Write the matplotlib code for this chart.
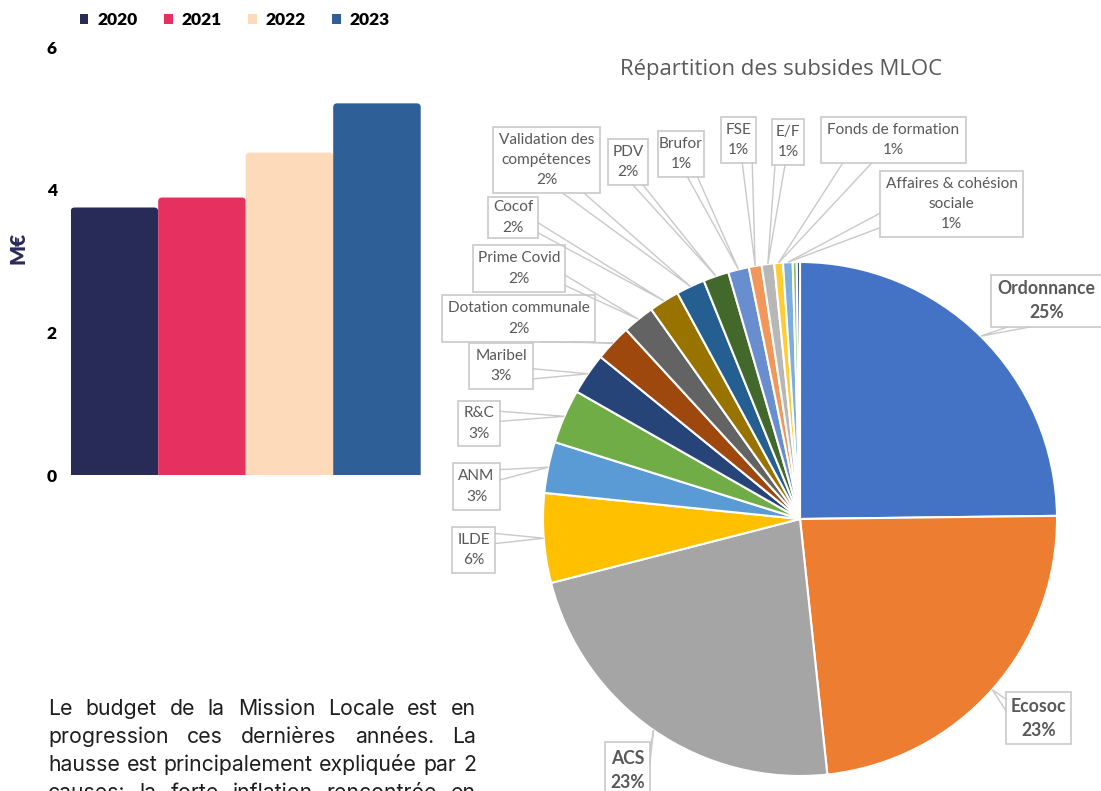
import numpy as np
import matplotlib
matplotlib.use("Agg")
import matplotlib.pyplot as plt
from matplotlib.patches import FancyBboxPatch, Rectangle

W, H = 1101, 791

# --- bar chart data (M€)
years = ["2020", "2021", "2022", "2023"]
budget = [3.75, 3.89, 4.52, 5.21]
bar_colors = ["#282a58", "#e63160", "#fddbba", "#2e5f97"]

# --- pie data (share of subsidies, %)
subsides = ["Ordonnance", "Ecosoc", "ACS", "ILDE", "ANM", "R&C", "Maribel",
            "Dotation communale", "Prime Covid", "Cocof",
            "Validation des\ncompétences", "PDV", "Brufor", "FSE", "E/F",
            "Fonds de formation", "Affaires & cohésion\nsociale", "", ""]
parts = [24.7, 23.4, 22.6, 5.6, 3.2, 3.4, 2.6, 2.3, 2.0, 1.9, 1.8, 1.6,
         1.3, 0.8, 0.78, 0.55, 0.6, 0.25, 0.2]
pie_colors = ["#4472c4", "#ed7d31", "#a5a5a5", "#ffc000", "#5b9bd5", "#70ad47",
              "#264478", "#9e480e", "#636363", "#997300", "#255e91", "#43682b",
              "#698ed0", "#f1975a", "#b7b7b7", "#ffcd33", "#7cafdd", "#8cc168",
              "#2f4f8f"]
bold_labels = ["Ordonnance", "Ecosoc", "ACS"]

# label boxes in page pixels (x0, y0, x1, y1) and side where the tail leaves
label_boxes = [(991, 275, 1102, 327), (1006, 692, 1071, 744), (605, 742, 650, 800),
               (452, 527, 495, 573), (453, 463, 500, 510), (458, 401, 500, 446),
               (469, 343, 533, 389), (442, 295, 595, 342), (473, 245, 565, 292),
               (488, 197, 538, 238), (493, 127, 600, 193), (608, 139, 648, 185),
               (658, 131, 704, 177), (721, 117, 756, 163), (772, 119, 804, 165),
               (821, 117, 966, 163), (880, 171, 1023, 237)]
tail_side = ["b", "l", "r", "r", "r", "r", "r", "b", "r", "r", "b", "b", "b",
             "b", "b", "b", "l"]

paragraph = ["Le budget de la Mission Locale est en",
             "progression ces dernières années. La",
             "hausse est principalement expliquée par 2",
             "causes: la forte inflation rencontrée en"]

fig = plt.figure(figsize=(W / 100, H / 100), dpi=100)
page = fig.add_axes([0, 0, 1, 1])
page.set_xlim(0, W)
page.set_ylim(H, 0)
page.axis("off")
page.set_zorder(5)
renderer = fig.canvas.get_renderer()


def fit(txt, width, **kw):
    t = page.text(0, 0, txt, fontsize=10, **kw)
    w = t.get_window_extent(renderer).width
    t.remove()
    return 10 * width / w


# ---------------- bar chart
bax = fig.add_axes([70.7 / W, (H - 475) / H, 350 / W, 428 / H])
bars = bax.bar(range(len(years)), budget, width=1.0, color=bar_colors)
handles = []
for rect in bars:
    x, w, h = rect.get_x(), rect.get_width(), rect.get_height()
    p = FancyBboxPatch((x, -0.1), w, h + 0.1,
                       boxstyle="round,pad=0,rounding_size=0.045",
                       mutation_aspect=1.23, fc=rect.get_facecolor(), ec="none")
    rect.remove()
    bax.add_patch(p)
    handles.append(p)
bax.set_xlim(-0.5, 3.5)
bax.set_ylim(0, 6)
bax.set_xticks([])
bax.set_yticks([0, 2, 4, 6])
bax.tick_params(axis="y", length=0, pad=10, labelsize=12.5)
for lab in bax.get_yticklabels():
    lab.set_fontfamily("Lato")
    lab.set_fontweight("heavy")
for s in bax.spines.values():
    s.set_visible(False)
bax.set_ylabel("M€", fontsize=15, fontweight="heavy", family="Lato",
               color="#282a58", va="center")
bax.yaxis.set_label_coords((18 - 70.7) / 350, (475 - 248) / 428)
bax.legend(handles=handles, labels=years, ncol=4, frameon=False,
           loc="center left", bbox_to_anchor=(80 / W, 1 - 20 / H),
           bbox_transform=fig.transFigure, handlelength=0.48, handleheight=0.48,
           handletextpad=0.5, columnspacing=1.55, borderpad=0, borderaxespad=0,
           prop=dict(family="Lato", weight="heavy", size=12.5))

# ---------------- text paragraph (justified)
psize = fit(paragraph[2], 428, family="Inter")
for i, line in enumerate(paragraph):
    words = line.split(" ")
    widths = []
    for wd in words:
        t = page.text(0, 0, wd, fontsize=psize, family="Inter")
        widths.append(t.get_window_extent(renderer).width)
        t.remove()
    gap = (428 - sum(widths)) / (len(words) - 1)
    x = 48
    for wd, wdt in zip(words, widths):
        page.text(x, 715 + 28 * i, wd, fontsize=psize, family="Inter",
                  color="#1e1e1e", va="baseline", ha="left")
        x += wdt + gap

# ---------------- pie chart
cx, cy, R = 800, 519, 257
pax = fig.add_axes([(cx - R) / W, (H - cy - R) / H, 2 * R / W, 2 * R / H])
wedges, _ = pax.pie(parts, colors=pie_colors, startangle=90, counterclock=False,
                    wedgeprops=dict(edgecolor="white", linewidth=1.5))
pax.set_xlim(-1, 1)
pax.set_ylim(-1, 1)
pax.axis("off")

page.text(781, 70, "Répartition des subsides MLOC", ha="center", va="center",
          color="#595959", family="Open Sans",
          fontsize=fit("Répartition des subsides MLOC", 321, family="Open Sans"))

s_norm = fit("Fonds de formation", 133, family="Lato")
s_bold = fit("Ordonnance", 98, family="Lato", weight="bold")
to_page = pax.transData + page.transData.inverted()
total = sum(parts)
grey_line = "#c9c9c9"

for k, box in enumerate(label_boxes):
    wdg = wedges[k]
    mid = np.deg2rad((wdg.theta1 + wdg.theta2) / 2)
    tx, ty = to_page.transform((np.cos(mid), np.sin(mid)))
    x0, y0, x1, y1 = box
    side = tail_side[k]
    if side in ("l", "r"):
        xs = x1 if side == "r" else x0
        hgt = y1 - y0
        c = np.clip(ty, y0 + 0.25 * hgt, y1 - 0.25 * hgt)
        half = max(0.11 * hgt, 5)
        b0, b1 = (xs, c - half), (xs, c + half)
    else:
        ys = y1 if side == "b" else y0
        wid = x1 - x0
        c = np.clip(tx, x0 + 0.25 * wid, x1 - 0.25 * wid)
        half = max(0.1 * wid, 5)
        b0, b1 = (c - half, ys), (c + half, ys)
    page.plot([b0[0], tx, b1[0]], [b0[1], ty, b1[1]], color=grey_line, lw=1,
              solid_joinstyle="miter")
    page.add_patch(Rectangle((x0, y0), x1 - x0, y1 - y0, fc="white",
                             ec=grey_line, lw=1.2))
    name = subsides[k]
    bold = name in bold_labels
    lines = name.split("\n") + [f"{round(parts[k] / total * 100):.0f}%"]
    step = 24 if bold else 20.5
    yc = (y0 + y1) / 2
    for j, ln in enumerate(lines):
        page.text((x0 + x1) / 2, yc + (j - (len(lines) - 1) / 2) * step, ln,
                  ha="center", va="center", color="#595959", family="Lato",
                  fontsize=s_bold if bold else s_norm,
                  fontweight="bold" if bold else "normal")

fig.savefig("out.png", dpi=100)
